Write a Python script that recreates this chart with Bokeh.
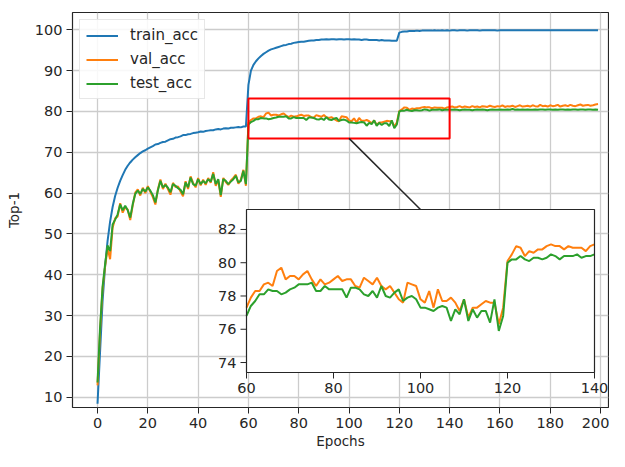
from bokeh.plotting import figure
from bokeh.models import Range1d, FixedTicker
from bokeh.core.properties import value
from bokeh.embed import file_html
from bokeh.resources import INLINE

# ---------------- data ----------------
epochs = list(range(200))

train_acc = [
    8.4, 21.0, 33.5, 42.0, 48.3, 53.0, 56.6, 59.3, 61.3, 63.0,
    64.4, 65.7, 66.7, 67.5, 68.2, 68.8, 69.3, 69.8, 70.2, 70.5,
    70.9, 71.2, 71.5, 71.9, 72.0, 72.3, 72.5, 72.6, 72.9, 73.2,
    73.3, 73.6, 73.7, 73.9, 74.2, 74.2, 74.4, 74.5, 74.7, 74.8,
    74.9, 75.1, 75.0, 75.2, 75.3, 75.4, 75.4, 75.6, 75.7, 75.6,
    75.8, 75.9, 75.8, 76.0, 76.0, 76.1, 76.2, 76.1, 76.3, 76.3,
    86.5, 90.0, 91.4, 92.3, 93.0, 93.6, 94.1, 94.5, 94.9, 95.2,
    95.4, 95.6, 95.8, 96.0, 96.2, 96.3, 96.5, 96.6, 96.8, 96.9,
    97.0, 97.1, 97.1, 97.2, 97.3, 97.4, 97.4, 97.5, 97.5, 97.6,
    97.6, 97.7, 97.6, 97.7, 97.7, 97.6, 97.7, 97.7, 97.6, 97.7,
    97.7, 97.6, 97.7, 97.6, 97.6, 97.5, 97.6, 97.6, 97.5, 97.5,
    97.5, 97.5, 97.4, 97.5, 97.4, 97.4, 97.4, 97.3, 97.3, 97.3,
    99.3, 99.5, 99.6, 99.6, 99.7, 99.7, 99.7, 99.8, 99.7, 99.8,
    99.8, 99.8, 99.8, 99.8, 99.9, 99.8, 99.8, 99.9, 99.8, 99.9,
    99.8, 99.9, 99.9, 99.8, 99.9, 99.9, 99.9, 99.8, 99.9, 99.9,
    99.9, 99.9, 99.8, 99.9, 99.9, 99.9, 99.9, 99.9, 99.9, 99.8,
    99.9, 99.9, 99.9, 99.9, 99.9, 99.9, 99.9, 99.9, 99.9, 99.9,
    99.9, 99.9, 99.9, 99.9, 99.9, 99.9, 99.9, 99.9, 99.9, 99.9,
    99.9, 99.9, 99.9, 99.9, 99.9, 99.9, 99.9, 99.9, 99.9, 99.9,
    99.9, 99.9, 99.9, 99.9, 99.9, 99.9, 99.9, 99.9, 99.9, 99.9,
]

val_acc = [
    12.9, 26.0, 36.5, 42.0, 46.5, 43.8, 51.5, 53.8, 54.3, 57.5,
    55.2, 56.5, 56.0, 53.4, 57.0, 60.1, 60.9, 59.4, 61.3, 60.0,
    61.7, 60.3, 59.0, 57.2, 60.9, 63.3, 61.0, 62.3, 61.0, 59.6,
    62.5, 61.5, 61.6, 60.4, 59.2, 62.9, 61.0, 64.1, 62.5, 61.4,
    63.7, 61.9, 63.3, 62.0, 63.7, 62.5, 65.1, 61.8, 63.2, 59.1,
    63.7, 62.7, 62.0, 63.1, 63.7, 64.5, 62.3, 63.3, 65.7, 61.8,
    77.3, 77.9, 78.3, 78.3, 78.7, 78.8, 78.6, 79.5, 79.7, 79.0,
    79.2, 79.2, 79.0, 79.3, 79.5, 79.0, 78.6, 79.0, 78.7, 78.8,
    79.0, 79.2, 78.9, 79.0, 79.0, 78.6, 78.5, 79.1, 78.9, 78.7,
    79.1, 78.6, 78.4, 78.6, 78.2, 77.8, 77.6, 78.8, 78.7, 78.6,
    77.8, 77.6, 78.3, 77.3, 78.4, 77.7, 77.7, 77.9, 77.6, 77.1,
    77.8, 76.7, 77.3, 77.3, 77.5, 77.7, 77.6, 77.6, 76.3, 77.3,
    80.1, 80.5, 81.0, 80.9, 80.4, 80.7, 80.6, 80.8, 80.8, 81.0,
    81.1, 81.0, 81.0, 80.8, 81.0, 80.9, 80.9, 80.9, 80.7, 81.0,
    81.1, 81.2, 81.0, 81.1, 81.3, 81.0, 81.2, 81.1, 81.0, 81.3,
    81.1, 81.2, 81.0, 81.3, 81.2, 81.1, 81.4, 81.2, 81.1, 81.3,
    81.2, 81.5, 81.1, 81.3, 81.2, 81.4, 81.1, 81.3, 81.5, 81.2,
    81.3, 81.4, 81.2, 81.5, 81.3, 81.2, 81.6, 81.3, 81.4, 81.2,
    81.5, 81.3, 81.4, 81.6, 81.2, 81.4, 81.5, 81.3, 81.6, 81.4,
    81.3, 81.5, 81.7, 81.4, 81.5, 81.6, 81.4, 81.5, 81.7, 81.8,
]

test_acc = [
    13.6, 27.0, 37.0, 42.5, 47.2, 45.8, 52.3, 53.5, 54.8, 57.2,
    55.8, 56.9, 55.8, 54.0, 57.3, 59.8, 60.6, 59.8, 61.0, 60.4,
    61.4, 60.6, 59.5, 57.7, 60.7, 63.0, 61.4, 62.0, 61.3, 60.2,
    62.2, 61.8, 61.2, 60.8, 59.7, 62.6, 61.4, 63.8, 62.2, 61.8,
    63.4, 62.2, 63.0, 62.4, 63.4, 62.8, 64.7, 62.2, 63.4, 59.5,
    63.4, 63.0, 62.2, 62.8, 63.4, 64.2, 62.6, 63.0, 65.5, 62.2,
    76.8, 77.4, 77.7, 78.1, 78.1, 78.4, 78.3, 78.3, 78.1, 78.2,
    78.4, 78.5, 78.7, 78.7, 78.7, 78.8, 78.3, 78.3, 78.6, 78.4,
    78.4, 78.4, 78.4, 77.9, 78.5, 78.5, 78.4, 78.1, 78.0, 78.3,
    77.9, 78.6, 78.0, 77.9, 78.2, 78.4, 77.7, 77.9, 78.0, 77.8,
    77.3, 77.3, 77.2, 77.1, 77.3, 77.4, 77.3, 76.5, 77.2, 76.9,
    77.8, 76.5, 77.2, 76.7, 77.1, 77.1, 76.4, 77.8, 75.9, 76.8,
    80.0, 80.2, 80.2, 80.4, 80.2, 80.1, 80.3, 80.3, 80.2, 80.3,
    80.5, 80.4, 80.2, 80.4, 80.4, 80.4, 80.5, 80.3, 80.4, 80.4,
    80.5, 80.4, 80.5, 80.4, 80.3, 80.4, 80.5, 80.4, 80.4, 80.3,
    80.4, 80.5, 80.4, 80.5, 80.4, 80.3, 80.4, 80.5, 80.4, 80.4,
    80.5, 80.4, 80.4, 80.5, 80.4, 80.6, 80.4, 80.5, 80.4, 80.5,
    80.4, 80.5, 80.4, 80.4, 80.5, 80.4, 80.5, 80.5, 80.4, 80.5,
    80.5, 80.4, 80.5, 80.4, 80.5, 80.5, 80.4, 80.5, 80.4, 80.5,
    80.5, 80.4, 80.5, 80.5, 80.4, 80.5, 80.5, 80.4, 80.5, 80.4,
]

x_ticks = [0, 20, 40, 60, 80, 100, 120, 140, 160, 180, 200]
y_ticks = [10, 20, 30, 40, 50, 60, 70, 80, 90, 100]
inset_x_ticks = [60, 80, 100, 120, 140]
inset_y_ticks = [74, 76, 78, 80, 82]
zoom_x = [60, 140]
zoom_y = [73.4, 83.2]

# ---------------- style / layout ----------------
FONT = "DejaVu Sans"
TXT = "#262626"
C_TRAIN, C_VAL, C_TEST = "#1f77b4", "#ff7f0e", "#2ca02c"

W, H = 609, 451
ML, MR, MT, MB = 72, 1, 12, 44
PX_X, PX_Y = 2.515, 4.082          # px per epoch / per accuracy point (reference scale)
fw = W - ML - MR
fh = H - MT - MB
XR = (-9.95, -9.95 + fw / PX_X)
YR = (104.24 - fh / PX_Y, 104.24)

def to_x(px):   # frame pixel (from left) -> main data x
    return XR[0] + px / PX_X

def to_y(py):   # frame pixel (from top) -> main data y
    return YR[1] - py / PX_Y

p = figure(width=W, height=H, x_range=Range1d(*XR), y_range=Range1d(*YR),
           output_backend="svg", toolbar_location=None,
           min_border_left=ML, min_border_right=MR,
           min_border_top=MT, min_border_bottom=MB)
p.background_fill_color = "white"
p.border_fill_color = "white"
p.outline_line_color = "#262626"
p.outline_line_width = 1.2

p.xaxis.ticker = FixedTicker(ticks=x_ticks)
p.yaxis.ticker = FixedTicker(ticks=y_ticks)
p.xgrid.ticker = FixedTicker(ticks=x_ticks)
p.ygrid.ticker = FixedTicker(ticks=y_ticks)
p.grid.grid_line_color = "#cccccc"
p.grid.grid_line_width = 1.3

for ax in (p.xaxis, p.yaxis):
    ax.axis_line_color = None
    ax.major_tick_out = 6
    ax.major_tick_in = 0
    ax.minor_tick_out = 0
    ax.minor_tick_in = 0
    ax.major_tick_line_color = "#262626"
    ax.major_label_text_font = FONT
    ax.major_label_text_font_size = "14.5px"
    ax.major_label_text_color = TXT
    ax.major_label_standoff = 4
    ax.axis_label_text_font = FONT
    ax.axis_label_text_font_size = "13.5px"
    ax.axis_label_text_font_style = "normal"
    ax.axis_label_text_color = TXT
p.xaxis.axis_label = "Epochs"
p.yaxis.axis_label = "Top-1"
p.xaxis.axis_label_standoff = 2
p.yaxis.axis_label_standoff = 10

p.line(epochs, train_acc, line_color=C_TRAIN, line_width=2, legend_label="train_acc")
p.line(epochs, val_acc, line_color=C_VAL, line_width=2, legend_label="val_acc")
p.line(epochs, test_acc, line_color=C_TEST, line_width=2, legend_label="test_acc")

# zoom rectangle
p.quad(left=[zoom_x[0]], right=[zoom_x[1]], bottom=[zoom_y[0]], top=[zoom_y[1]],
       fill_alpha=0, line_color="red", line_width=2)

leg = p.legend[0]
leg.location = "top_left"
leg.margin = 7
leg.padding = 6
leg.spacing = 6
leg.glyph_width = 32
leg.glyph_height = 15
leg.label_height = 15
leg.label_standoff = 12
leg.label_text_font = FONT
leg.label_text_font_size = "15px"
leg.label_text_color = TXT
leg.border_line_color = "#d0d0d0"
leg.border_line_width = 1
leg.background_fill_alpha = 0.85

# ---------------- inset (sub-coordinates inside the main frame) ----------------
# inset frame position in frame pixels (reference: x 246..~600, y 209..372)
IL, IR, IT, IB = 246 - ML, 594 - ML, 209 - MT, 372 - MT
sub = p.subplot(
    x_source=Range1d(*zoom_x), y_source=Range1d(*zoom_y),
    x_target=Range1d(to_x(IL), to_x(IR)), y_target=Range1d(to_y(IB), to_y(IT)),
)
ipx_x = (IR - IL) / (zoom_x[1] - zoom_x[0])
ipx_y = (IB - IT) / (zoom_y[1] - zoom_y[0])

# connector line: bottom middle of zoom rectangle -> top middle of inset frame
p.segment(x0=[(zoom_x[0] + zoom_x[1]) / 2.0], y0=[zoom_y[0]],
          x1=[to_x((IL + IR) / 2.0)], y1=[to_y(IT)],
          line_color="#262626", line_width=1.5)

# inset background
sub.quad(left=[zoom_x[0]], right=[zoom_x[1]], bottom=[zoom_y[0]], top=[zoom_y[1]],
         fill_color="white", line_color=None)

lo, hi = zoom_x
idx = [i for i, e in enumerate(epochs) if lo <= e <= hi]
sub.line([epochs[i] for i in idx], [val_acc[i] for i in idx], line_color=C_VAL, line_width=2)
sub.line([epochs[i] for i in idx], [test_acc[i] for i in idx], line_color=C_TEST, line_width=2)

# inset frame
sub.quad(left=[zoom_x[0]], right=[zoom_x[1]], bottom=[zoom_y[0]], top=[zoom_y[1]],
         fill_alpha=0, line_color="#262626", line_width=1.2)

# inset ticks
TICK = 6
sub.segment(x0=inset_x_ticks, y0=[zoom_y[0]] * len(inset_x_ticks),
            x1=inset_x_ticks, y1=[zoom_y[0] - TICK / ipx_y] * len(inset_x_ticks),
            line_color="#262626", line_width=1)
sub.segment(x0=[zoom_x[0]] * len(inset_y_ticks), y0=inset_y_ticks,
            x1=[zoom_x[0] - TICK / ipx_x] * len(inset_y_ticks), y1=inset_y_ticks,
            line_color="#262626", line_width=1)

# inset tick labels
sub.text(x=inset_x_ticks, y=[zoom_y[0]] * len(inset_x_ticks),
         text=[str(t) for t in inset_x_ticks], y_offset=TICK + 4,
         text_align="center", text_baseline="top",
         text_font=value(FONT), text_font_size=value("14.5px"), text_color=TXT)
sub.text(x=[zoom_x[0]] * len(inset_y_ticks), y=inset_y_ticks,
         text=[str(t) for t in inset_y_ticks], x_offset=-(TICK + 4),
         text_align="right", text_baseline="middle",
         text_font=value(FONT), text_font_size=value("14.5px"), text_color=TXT)

open("out.html", "w").write(file_html(p, INLINE))
